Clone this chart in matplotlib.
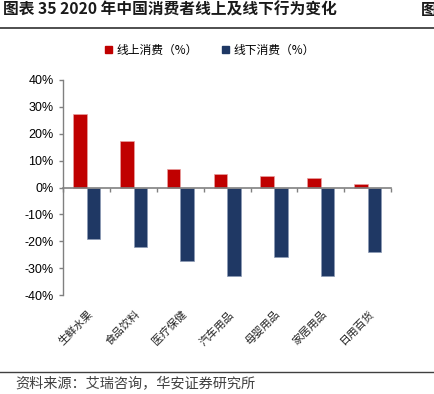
import matplotlib
matplotlib.use("Agg")
import matplotlib.pyplot as plt
import numpy as np
from matplotlib.transforms import offset_copy
from matplotlib.lines import Line2D

categories = ["生鲜水果", "食品饮料", "医疗保健", "汽车用品", "母婴用品", "家居用品", "日用百货"]
online = [27.4, 17.2, 6.8, 5.1, 4.1, 3.5, 1.4]
offline = [-19.2, -22.0, -27.4, -32.9, -25.8, -33.1, -24.0]
yticks = [-40, -30, -20, -10, 0, 10, 20, 30, 40]
series_names = ["线上消费（%）", "线下消费（%）"]
title = "图表 35 2020 年中国消费者线上及线下行为变化"
source = "资料来源：艾瑞咨询，华安证券研究所"

RED = "#C00000"
NAVY = "#1F3864"
GRAY = "#808080"
CJK = ["Noto Sans CJK SC", "DejaVu Sans"]

fig = plt.figure(figsize=(4.34, 3.94), dpi=100)
W, H = 434, 394
ax = fig.add_axes([63.3 / W, 1 - 295 / H, (391 - 63.3) / W, (295 - 80) / H])

x = np.arange(len(categories))
bw = 0.29
ax.bar(x - bw / 2, online, bw, color=RED, edgecolor="#E8A0A0", linewidth=0.5, zorder=2)
ax.bar(x + bw / 2, offline, bw, color=NAVY, edgecolor="#8C9AB5", linewidth=0.5, zorder=2)

ax.set_xlim(-0.5, len(categories) - 0.5)
ax.set_ylim(-40, 40)
ax.set_yticks(yticks)
ax.set_yticklabels([f"{v}%" for v in yticks], family="Liberation Sans", fontsize=9)

for s in ["top", "right"]:
    ax.spines[s].set_visible(False)
ax.spines["left"].set_color(GRAY)
ax.spines["left"].set_linewidth(1)
ax.spines["bottom"].set_position(("data", 0))
ax.spines["bottom"].set_color(GRAY)
ax.spines["bottom"].set_linewidth(1.2)
ax.spines["bottom"].set_zorder(3)
ax.set_xticks(np.arange(-0.5, len(categories), 1.0))
ax.set_xticklabels([])
ax.tick_params(axis="x", length=3, color=GRAY, width=1, direction="out")
ax.tick_params(axis="y", length=3, color=GRAY, width=1, pad=4)

trans = offset_copy(ax.get_xaxis_transform(), fig=fig, x=1, y=-14, units="dots")
for i, c in enumerate(categories):
    ax.text(i, 0, c, transform=trans, rotation=45, ha="right", va="top",
            rotation_mode="anchor", family=CJK, fontsize=7.8, color="#222222")

handles = [plt.Rectangle((0, 0), 1, 1, color=RED), plt.Rectangle((0, 0), 1, 1, color=NAVY)]
fig.legend(handles, series_names, loc="center", bbox_to_anchor=(210 / W, 1 - 50 / H),
           ncol=2, frameon=False, prop={"family": CJK, "size": 8.5},
           handlelength=0.6, handleheight=0.6, handletextpad=0.4, columnspacing=2.0)

fig.text(3 / W, 1 - 10 / H, title, ha="left", va="center", family=CJK,
         fontsize=11.3, fontweight="bold", color="#1a1a1a")
fig.text(421 / W, 1 - 10 / H, "图", ha="left", va="center", family=CJK,
         fontsize=11.3, fontweight="bold", color="#1a1a1a")
fig.add_artist(Line2D([0, 1], [1 - 28 / H, 1 - 28 / H], transform=fig.transFigure,
                      color="#404040", linewidth=1.3))
fig.add_artist(Line2D([0, 1], [1 - 372 / H, 1 - 372 / H], transform=fig.transFigure,
                      color="#404040", linewidth=1.0))
fig.text(15 / W, 1 - 384 / H, source, ha="left", va="center", family=CJK,
         fontsize=10.2, color="#404040")

fig.savefig("out.png", dpi=100)
